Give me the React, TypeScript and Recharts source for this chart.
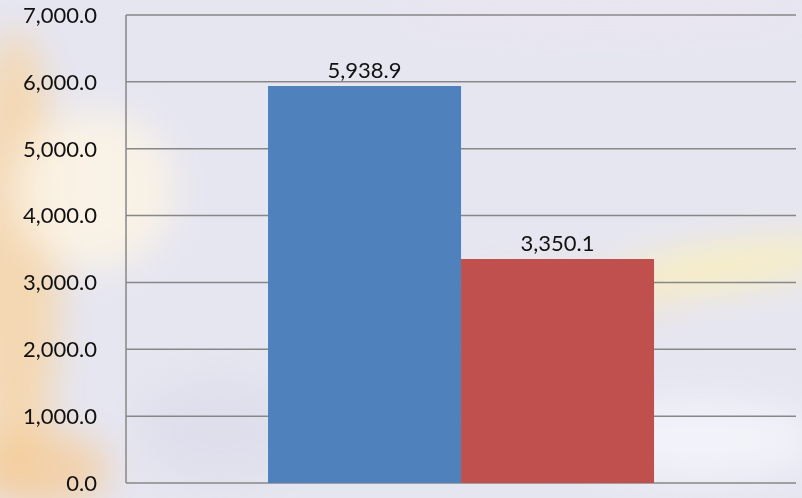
import React from "react";
import { BarChart, Bar, XAxis, YAxis, CartesianGrid, LabelList } from "recharts";

const categories = [""];
const seriesA = [5938.9];
const seriesB = [3350.1];
const yTicks = [0, 1000, 2000, 3000, 4000, 5000, 6000, 7000];

const data = categories.map((c, i) => ({ name: c, a: seriesA[i], b: seriesB[i] }));

const fmt = (v: number) =>
  Number(v).toLocaleString("en-US", { minimumFractionDigits: 1, maximumFractionDigits: 1 });

const FONT = "Lato, 'Noto Sans', sans-serif";

function Background() {
  return (
    <svg width={802} height={498} style={{ position: "absolute", left: 0, top: 0 }}>
      <defs>
        <filter id="blur" x="-50%" y="-50%" width="200%" height="200%">
          <feGaussianBlur stdDeviation="18" />
        </filter>
      </defs>
      <rect x={0} y={0} width={802} height={498} fill="#e6e6f1" />
      <g filter="url(#blur)">
        <ellipse cx={15} cy={260} rx={45} ry={230} fill="#f8d39c" opacity={0.75} />
        <circle cx={95} cy={190} r={80} fill="#fbf3e4" opacity={0.9} />
        <ellipse cx={40} cy={470} rx={70} ry={40} fill="#f6c98e" opacity={0.7} />
        <ellipse cx={720} cy={268} rx={130} ry={22} fill="#fbf0b8" opacity={0.85} transform="rotate(-8 720 268)" />
        <ellipse cx={560} cy={300} rx={120} ry={30} fill="#f1e3cf" opacity={0.6} />
        <ellipse cx={700} cy={440} rx={120} ry={40} fill="#f3f3fa" opacity={0.9} />
        <ellipse cx={220} cy={430} rx={80} ry={50} fill="#dcdcea" opacity={0.7} />
        <ellipse cx={600} cy={10} rx={200} ry={20} fill="#ece4ee" opacity={0.6} />
      </g>
    </svg>
  );
}

export default function App() {
  return (
    <div style={{ position: "fixed", left: 0, top: 0, width: 802, height: 498, overflow: "hidden" }}>
      <Background />
      <div style={{ position: "absolute", left: 0, top: 0 }}>
        <BarChart
          width={802}
          height={498}
          data={data}
          margin={{ top: 15, right: 6, bottom: 15, left: 0 }}
          barCategoryGap="21.2%"
          barGap={0}
        >
          <CartesianGrid vertical={false} stroke="#878787" strokeWidth={1.5} />
          <XAxis dataKey="name" axisLine={{ stroke: "#878787", strokeWidth: 1.5 }} tickLine={false} tick={false} height={0} />
          <YAxis
            width={126}
            domain={[0, 7000]}
            ticks={yTicks}
            interval={0}
            tickFormatter={fmt}
            axisLine={{ stroke: "#878787", strokeWidth: 1.5 }}
            tickLine={false}
            tickMargin={23}
            tick={{ fill: "#111", fontSize: 22, fontFamily: FONT }}
          />
          <Bar dataKey="a" fill="#4F81BD" isAnimationActive={false}>
            <LabelList dataKey="a" position="top" offset={8} formatter={fmt} fill="#111" fontSize={22} fontFamily={FONT} />
          </Bar>
          <Bar dataKey="b" fill="#C0504D" isAnimationActive={false}>
            <LabelList dataKey="b" position="top" offset={8} formatter={fmt} fill="#111" fontSize={22} fontFamily={FONT} />
          </Bar>
        </BarChart>
      </div>
    </div>
  );
}
